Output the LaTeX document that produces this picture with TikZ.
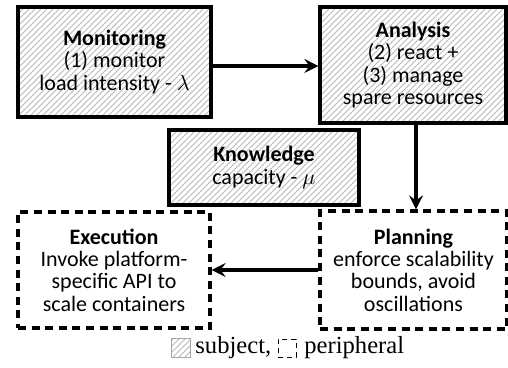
\documentclass[tikz,border=0pt]{standalone}
\usepackage{fontspec}
\setmainfont{Liberation Serif}
\newfontfamily\boxfont{Carlito}
\usetikzlibrary{patterns,arrows.meta}
\begin{document}
\begin{tikzpicture}[x=0.5pt,y=-0.5pt,
  box/.style={draw,line width=1.6pt,align=center,inner sep=0pt,
    font=\boxfont\fontsize{11}{11.2}\selectfont},
  subject/.style={box,pattern=north east lines,pattern color=gray!55},
  peri/.style={box,dashed,dash pattern=on 4pt off 2.8pt},
  conn/.style={line width=1.6pt,-{Stealth[length=7pt,width=7pt,inset=2.5pt]}},
  legtext/.style={anchor=west,inner sep=0pt,font=\fontsize{12.3}{14}\selectfont}]
\useasboundingbox (0,0) rectangle (508,368);
\node[subject,minimum width=96.5pt,minimum height=55pt] (mon) at (114.5,62)
  {\textbf{Monitoring}\\(1) monitor\\load intensity - $\lambda$};
\node[subject,minimum width=93pt,minimum height=58pt] (ana) at (413,65)
  {\textbf{Analysis}\\(2) react +\\(3) manage\\spare resources};
\node[subject,minimum width=95pt,minimum height=37.5pt] (kno) at (264,167.5)
  {\textbf{Knowledge}\\capacity - $\mu$};
\node[peri,minimum width=96pt,minimum height=58pt] (exe) at (114,270)
  {\textbf{Execution}\\Invoke platform-\\specific API to\\scale containers};
\node[peri,minimum width=93.5pt,minimum height=59pt] (pla) at (413.5,270)
  {\textbf{Planning}\\enforce scalability\\bounds, avoid\\oscillations};
\draw[conn] (mon.east|-0,66) -- (ana.west|-0,66);
\draw[conn] (ana.south-|416,0) -- (pla.north-|416,0);
\draw[conn] (pla.west) -- (exe.east);
\node[draw=gray!70,line width=0.4pt,pattern=north east lines,pattern color=gray!55,
  minimum size=9.5pt,inner sep=0pt] (lsub) at (181,348) {};
\node[legtext] (lsubt) at (195,348) {subject,};
\node[draw,dashed,dash pattern=on 2.5pt off 2pt,line width=0.4pt,
  minimum size=9pt,inner sep=0pt] (lper) at (287,348) {};
\node[legtext] (lpert) at (304,348) {peripheral};
\end{tikzpicture}
\end{document}
